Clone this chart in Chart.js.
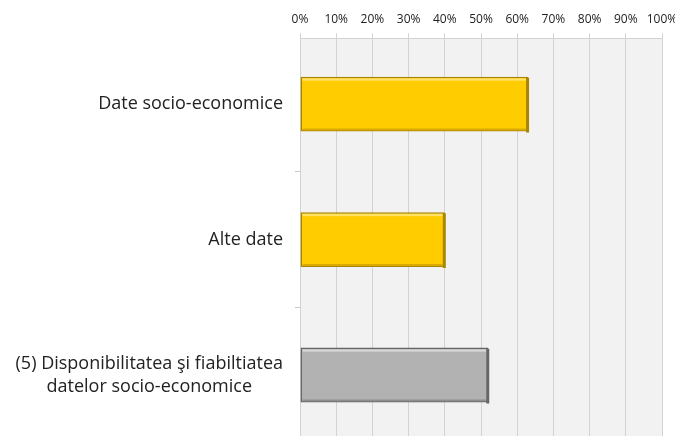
<!DOCTYPE html>
<html>
<head>
<meta charset="utf-8">
<script src="https://cdn.jsdelivr.net/npm/chart.js@4.4.0/dist/chart.umd.min.js"></script>
<style>
  html, body { margin: 0; padding: 0; background: #fff; }
  #wrap { width: 675px; height: 436px; }
</style>
</head>
<body>
<div id="wrap"><canvas id="bar-chart"></canvas></div>
<script>
const categories = ['Date socio-economice', 'Alte date', ['(5) Disponibilitatea şi fiabiltiatea', 'datelor socio-economice']];
const values = [63, 40, 52];
const xTicks = [0, 10, 20, 30, 40, 50, 60, 70, 80, 90, 100];

const fills = [['#ffe36a', '#ffcc00', '#d9aa00'], ['#ffe36a', '#ffcc00', '#d9aa00'], ['#d8d8d8', '#b2b2b2', '#8e8e8e']];
const edges = ['#a88600', '#a88600', '#666666'];

// plot area background
const plotBg = {
  id: 'plotBg',
  beforeDraw(chart) {
    const a = chart.chartArea, ctx = chart.ctx;
    ctx.save();
    ctx.fillStyle = '#f2f2f2';
    ctx.fillRect(a.left, a.top, a.right - a.left, a.bottom - a.top);
    ctx.restore();
  }
};

// bevel: light top edge, dark right/bottom edge on each bar
const bevel = {
  id: 'bevel',
  afterDatasetsDraw(chart) {
    const ctx = chart.ctx;
    ctx.save();
    chart.getDatasetMeta(0).data.forEach((el, i) => {
      const l = el.base, r = el.x, t = el.y - el.height / 2, b = el.y + el.height / 2;
      ctx.fillStyle = fills[i][0];
      ctx.fillRect(l + 2, t + 2, r - l - 4, 2);
      ctx.fillStyle = fills[i][2];
      ctx.fillRect(l + 2, b - 3, r - l - 4, 2);
      ctx.fillStyle = edges[i];
      ctx.fillRect(r - 2, t + 1, 3, b - t);
    });
    ctx.restore();
  }
};

// category labels: single lines right aligned, wrapped label centred as a block
const yLabels = {
  id: 'yLabels',
  afterDraw(chart) {
    const s = chart.scales.y, ctx = chart.ctx;
    const lineH = 23;
    ctx.save();
    ctx.font = '18px "Open Sans"';
    ctx.fillStyle = '#222';
    ctx.textBaseline = 'middle';
    ctx.textAlign = 'center';
    categories.forEach((c, i) => {
      const lines = Array.isArray(c) ? c : [c];
      const w = Math.max(...lines.map(l => ctx.measureText(l).width));
      const cx = s.right - 17 - w / 2;
      const y0 = s.getPixelForValue(i) - (lines.length - 1) * lineH / 2;
      lines.forEach((l, j) => ctx.fillText(l, cx, y0 + j * lineH));
    });
    ctx.restore();
  }
};

const graph = document.getElementById('bar-chart');

const chart = new Chart(graph, {
  type: 'bar',
  data: {
    labels: categories,
    datasets: [{
      data: values,
      backgroundColor: fills.map(f => f[1]),
      borderColor: edges,
      borderWidth: 1.5,
      borderSkipped: false,
      barPercentage: 0.405,
      categoryPercentage: 1
    }]
  },
  options: {
    indexAxis: 'y',
    responsive: true,
    maintainAspectRatio: false,
    animation: false,
    layout: { padding: { top: 5, right: 0, bottom: 0, left: 0 } },
    plugins: {
      legend: { display: false },
      tooltip: { enabled: false }
    },
    scales: {
      x: {
        position: 'top',
        min: 0,
        max: 100,
        afterBuildTicks: (s) => { s.ticks = xTicks.map(v => ({ value: v })); },
        afterFit: (s) => { s.paddingLeft = 0; s.paddingRight = 13; },
        ticks: {
          callback: (v) => v + '%',
          font: { family: 'Open Sans', size: 12 },
          color: '#222',
          padding: 7,
          maxRotation: 0
        },
        grid: { color: '#d2d2d2', tickLength: 5 },
        border: { color: '#d2d2d2' }
      },
      y: {
        // the bottom of the last category runs a little past the picture's edge
        afterBuildTicks: (s) => { s._valueRange = 2.935; s._startValue = -0.485; },
        afterFit: (s) => { s.width = 300; },
        ticks: { display: false },
        grid: { drawOnChartArea: false, tickLength: 5, color: '#c8c8c8', offset: true },
        border: { color: '#d2d2d2' }
      }
    }
  },
  plugins: [plotBg, bevel, yLabels]
});
</script>
</body>
</html>
